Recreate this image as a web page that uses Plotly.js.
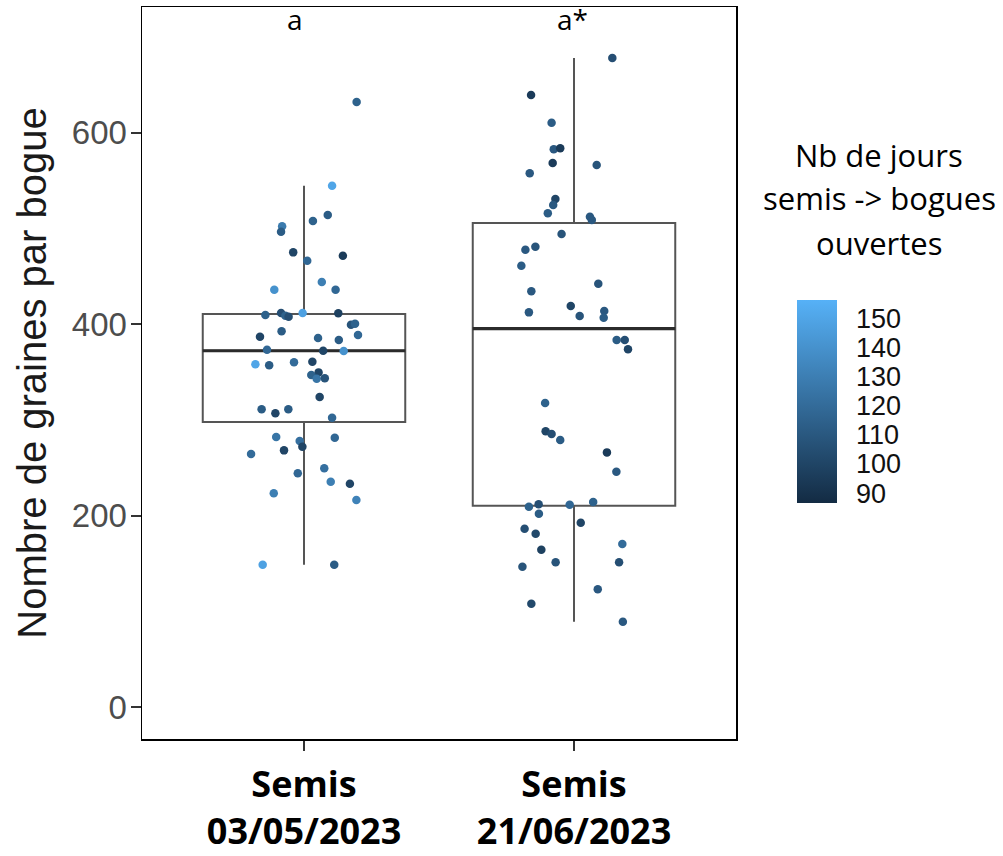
<!DOCTYPE html>
<html>
<head>
<meta charset="utf-8">
<script src="https://cdn.plot.ly/plotly-3.0.1.min.js"></script>
<style>html,body{margin:0;padding:0;background:#fff;}#chart{width:1003px;height:856px;}</style>
</head>
<body>
<div id="chart"></div>
<script>
// Categories
const categories = ['Semis 03/05/2023', 'Semis 21/06/2023'];
const tickLabels = ['<b>Semis</b><br><b>03/05/2023</b>', '<b>Semis</b><br><b>21/06/2023</b>'];
const letters = ['a', 'a*'];

// Boxplot summary statistics
const q1 = [297.8, 210.3];
const medians = [372.3, 395.5];
const q3 = [410.7, 505.7];
const lowerWhisker = [148.7, 89.1];
const upperWhisker = [544.7, 678.2];

// Group 1 : Semis 03/05/2023 — jitter offset, seeds per boll, days sowing -> open bolls
const g1Jitter = [0.195,0.104,0.033,0.088,-0.081,-0.085,-0.040,0.144,0.012,0.066,-0.110,0.117,-0.143,-0.085,-0.069,-0.057,-0.005,0.127,0.174,0.189,0.200,-0.163,-0.083,0.052,0.129,-0.137,0.071,0.147,-0.180,-0.129,-0.037,0.031,0.054,0.027,0.047,0.077,0.058,-0.157,-0.106,-0.058,0.104,-0.103,-0.016,-0.006,-0.074,0.114,-0.196,-0.023,0.075,0.099,0.170,-0.112,0.194,-0.153,0.112];
const g1Seeds = [632.2,544.7,507.8,514.1,502.3,496.7,475.1,471.6,466.4,444.1,436.1,436.1,409.6,411.7,408.9,407.8,411.7,411.4,399.5,400.5,388.7,386.9,392.6,385.6,383.5,373.4,372.3,372.0,358.1,357.1,360.2,360.8,349.7,346.9,343.1,343.5,323.9,311.1,306.9,311.1,302.3,282.1,278.0,272.0,268.2,281.4,264.4,244.2,249.4,235.4,233.3,223.3,216.3,148.7,148.7];
const g1Days = [115,150,115,112,128,112,100,95,118,130,140,118,115,105,115,105,148,98,108,115,118,100,112,115,112,118,100,140,150,112,120,100,100,115,125,108,100,112,100,112,118,125,122,100,100,118,120,118,122,130,100,130,132,148,112];

// Group 2 : Semis 21/06/2023
const g2Jitter = [0.142,-0.159,-0.083,-0.075,-0.051,-0.079,0.084,-0.164,-0.069,-0.077,-0.097,0.059,0.066,-0.046,-0.180,-0.143,-0.195,0.090,-0.158,-0.167,-0.012,0.021,0.112,0.110,0.158,0.188,0.200,-0.107,-0.105,-0.083,-0.051,0.122,0.157,-0.167,-0.131,-0.130,-0.016,0.071,0.025,-0.183,-0.142,0.179,-0.121,-0.191,-0.068,0.167,0.088,-0.158,0.181];
const g2Seeds = [678.2,639.5,610.6,582.8,583.8,568.4,566.4,557.7,530.8,524.6,515.9,512.3,508.9,494.3,477.8,481.0,461.1,442.3,434.4,412.4,419.0,408.6,413.8,406.8,383.5,383.5,373.8,317.7,288.1,285.3,279.0,266.1,245.9,209.3,211.8,202.0,211.4,214.2,192.6,186.3,181.1,170.3,164.4,146.6,151.2,151.2,123.0,107.9,89.1];
const g2Days = [105,95,112,110,95,95,108,110,100,110,112,110,110,108,110,108,112,108,110,110,100,108,110,112,112,105,100,115,100,105,112,95,110,115,105,112,118,115,100,105,102,120,98,108,108,105,110,102,110];

// Colour legend
const colorTicks = [90, 100, 110, 120, 130, 140, 150];
const colorMin = 86.6, colorMax = 156.2;
const legendTitleLines = ['Nb de jours', 'semis -> bogues', 'ouvertes'];

// Plot area in pixels (layout geometry, not data)
const W = 1003, H = 856;
const M = {l: 142, r: 267, t: 7, b: 117};
const plotW = W - M.l - M.r, plotH = H - M.t - M.b;
const toPaperX = px => (px - M.l) / plotW;
const toPaperY = py => 1 - (py - M.t) / plotH;

const boxWidth = 0.75;
const positions = categories.map((c, i) => i);

const boxTrace = {
  type: 'box',
  x: positions,
  q1: q1, median: medians, q3: q3,
  lowerfence: lowerWhisker, upperfence: upperWhisker,
  width: boxWidth,
  whiskerwidth: 0,
  boxpoints: false,
  fillcolor: 'rgba(255,255,255,0)',
  line: {color: '#555555', width: 2},
  hoverinfo: 'skip',
  showlegend: false
};

const medX = [], medY = [];
positions.forEach((p, i) => {
  medX.push(p - boxWidth / 2, p + boxWidth / 2, null);
  medY.push(medians[i], medians[i], null);
});
const medianTrace = {
  type: 'scatter', mode: 'lines', x: medX, y: medY,
  line: {color: '#2b2b2b', width: 3.2}, hoverinfo: 'skip', showlegend: false
};

const px = [], py = [], pc = [];
g1Jitter.forEach((j, i) => { px.push(positions[0] + j); py.push(g1Seeds[i]); pc.push(g1Days[i]); });
g2Jitter.forEach((j, i) => { px.push(positions[1] + j); py.push(g2Seeds[i]); pc.push(g2Days[i]); });

const pointTrace = {
  type: 'scatter', mode: 'markers', x: px, y: py,
  marker: {
    size: 8.5, color: pc, cmin: colorMin, cmax: colorMax,
    colorscale: [[0, '#132B43'], [1, '#56B1F7']],
    showscale: true,
    colorbar: {
      xref: 'container', yref: 'paper',
      x: 797 / W, xanchor: 'left', xpad: 0,
      y: toPaperY(401.5), yanchor: 'middle', ypad: 0,
      len: 203, lenmode: 'pixels', thickness: 40, thicknessmode: 'pixels',
      outlinewidth: 0,
      tickvals: colorTicks, ticktext: colorTicks.map(String),
      ticks: 'outside', ticklen: 14, tickcolor: 'rgba(255,255,255,0)',
      tickfont: {family: 'Liberation Sans, Arial, sans-serif', size: 27, color: '#111'}
    }
  },
  hoverinfo: 'skip', showlegend: false
};

const annotations = [];
letters.forEach((t, i) => {
  annotations.push({
    x: positions[i], y: 719, xref: 'x', yref: 'y', text: t, showarrow: false,
    xanchor: 'left', xshift: -19, yanchor: 'middle',
    font: {family: 'Open Sans, sans-serif', size: 28, color: '#000'}
  });
});
const legendLineY = [155, 198, 243];
legendTitleLines.forEach((t, i) => {
  annotations.push({
    x: toPaperX(879), y: toPaperY(legendLineY[i]), xref: 'paper', yref: 'paper',
    text: t, showarrow: false, xanchor: 'center', yanchor: 'middle',
    font: {family: 'Open Sans, sans-serif', size: 31, color: '#000'}
  });
});

const layout = {
  width: W, height: H,
  margin: M,
  paper_bgcolor: '#fff', plot_bgcolor: '#fff',
  showlegend: false,
  xaxis: {
    range: [-0.6, 1.6], tickvals: positions, ticktext: tickLabels,
    ticks: 'outside', ticklen: 10, tickwidth: 2, tickcolor: '#333',
    ticklabelstandoff: 3,
    tickfont: {family: 'Open Sans, sans-serif', size: 36, color: '#000', weight: 'bold'},
    showgrid: false, zeroline: false,
    showline: true, mirror: true, linecolor: '#000', linewidth: 1.5
  },
  yaxis: {
    range: [-33.4, 731.5], tickvals: [0, 200, 400, 600],
    ticks: 'outside', ticklen: 10, tickwidth: 2, tickcolor: '#333',
    ticklabelstandoff: -3,
    tickfont: {family: 'Liberation Sans, Arial, sans-serif', size: 33, color: '#4d4d4d'},
    showgrid: false, zeroline: false,
    showline: true, mirror: true, linecolor: '#000', linewidth: 1.5,
    title: {text: 'Nombre de graines par bogue', standoff: 13,
      font: {family: 'Liberation Sans, Arial, sans-serif', size: 40, color: '#1a1a1a'}}
  },
  annotations: annotations
};

Plotly.newPlot('chart', [boxTrace, medianTrace, pointTrace], layout, {displayModeBar: false, staticPlot: true});
</script>
</body>
</html>
